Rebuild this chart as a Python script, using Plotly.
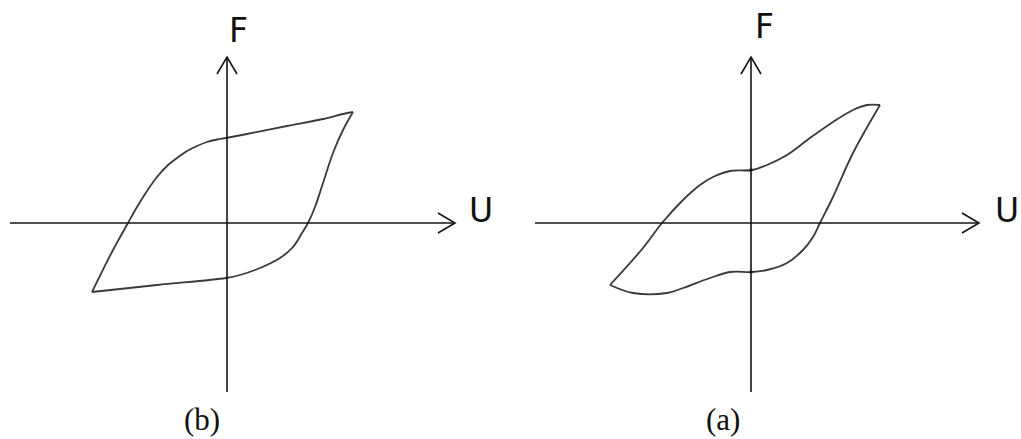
import plotly.graph_objects as go

# Hysteresis loop (b): force F versus displacement U
b_upper_u = [126, 116, 96, 60, 20, -1, -10, -20, -30, -40, -50, -60, -70, -80, -90, -99, -114, -135]
b_upper_f = [111, 109, 104, 97, 89, 85, 83.5, 81, 77, 72, 65, 57, 46, 32, 16, 0, -27, -69]
b_lower_u = [-135, -70, -1, 13, 33, 53, 66, 75, 81, 88, 96, 106, 116, 126]
b_lower_f = [-69, -62, -55, -52, -45, -35, -24, -10, 0, 16, 40, 70, 93, 111]

# Pinched hysteresis loop (a)
a_upper_u = [129, 116, 102, 82, 59, 36, 16, 1, -21, -38, -51, -68, -89, -108, -141]
a_upper_f = [118, 118, 113, 101, 85, 68, 58, 53, 52, 46, 38, 23, 0, -25, -62]
a_lower_u = [-141, -118, -84, -68, -41, -21, 1, 16, 36, 52, 62, 69, 82, 102, 129]
a_lower_f = [-62, -70, -70, -65, -55, -49, -49, -47, -40, -27, -14, 0, 26, 70, 118]

# Points where loop (a) meets the force axis
a_axis_u = [0, 0]
a_axis_f = [53, -49]

axis_labels = ["F", "U"]
panel_labels = ["(b)", "(a)"]

W, H = 1021, 439
LOOP_COLOR = "#3a3a3a"
AXIS_COLOR = "#141414"

fig = go.Figure()


def add_loop(u_up, f_up, u_lo, f_lo, xa, ya):
    for u, f in ((u_up, f_up), (u_lo, f_lo)):
        fig.add_trace(go.Scatter(
            x=u, y=f, mode="lines", xaxis=xa, yaxis=ya,
            line=dict(color=LOOP_COLOR, width=1.8, shape="spline", smoothing=1.0),
            hoverinfo="skip", showlegend=False,
        ))


add_loop(b_upper_u, b_upper_f, b_lower_u, b_lower_f, "x", "y")
add_loop(a_upper_u, a_upper_f, a_lower_u, a_lower_f, "x2", "y2")
fig.add_trace(go.Scatter(
    x=a_axis_u, y=a_axis_f, mode="markers", xaxis="x2", yaxis="y2",
    marker=dict(color=AXIS_COLOR, size=3.5), hoverinfo="skip", showlegend=False,
))

# Coordinate axes with open arrowheads
AX_RIGHT = 228
AX_BOTTOM, AX_TOP = -169, 166
HEAD_LEN, HEAD_HALF = 17, 10

shapes = []
annotations = []
for xr, yr, left in (("x", "y", -217), ("x2", "y2", -216)):
    line = dict(color=AXIS_COLOR, width=1.6)
    shapes.append(dict(type="line", xref=xr, yref=yr, x0=left, y0=0, x1=AX_RIGHT, y1=0, line=line))
    shapes.append(dict(type="line", xref=xr, yref=yr, x0=0, y0=AX_BOTTOM, x1=0, y1=AX_TOP, line=line))
    shapes.append(dict(
        type="path", xref=xr, yref=yr, line=line,
        path=f"M {AX_RIGHT - HEAD_LEN},{HEAD_HALF} L {AX_RIGHT},0 L {AX_RIGHT - HEAD_LEN},{-HEAD_HALF}",
    ))
    shapes.append(dict(
        type="path", xref=xr, yref=yr, line=line,
        path=f"M {-HEAD_HALF},{AX_TOP - HEAD_LEN} L 0,{AX_TOP} L {HEAD_HALF},{AX_TOP - HEAD_LEN}",
    ))

sans = dict(family="DejaVu Sans", size=33, color="#111111")
serif = dict(family="Liberation Serif", size=31, color="#111111")

# Panel (b) labels
annotations += [
    dict(text=axis_labels[0], xref="x", yref="y", x=11, y=193, showarrow=False, font=sans),
    dict(text=axis_labels[1], xref="x", yref="y", x=254, y=13, showarrow=False, font=sans),
    dict(text=panel_labels[0], xref="x", yref="y", x=-25, y=-216, yanchor="bottom",
         showarrow=False, font=serif),
]
# Panel (a) labels
annotations += [
    dict(text=axis_labels[0], xref="x2", yref="y2", x=13, y=197, showarrow=False, font=sans),
    dict(text=axis_labels[1], xref="x2", yref="y2", x=270, y=13, xanchor="right",
         showarrow=False, font=sans),
    dict(text=panel_labels[1], xref="x2", yref="y2", x=-28, y=-216, yanchor="bottom",
         showarrow=False, font=serif),
]

hidden = dict(visible=False, showgrid=False, zeroline=False, fixedrange=True)
fig.update_layout(
    width=W, height=H,
    margin=dict(l=0, r=0, t=0, b=0),
    paper_bgcolor="white", plot_bgcolor="white",
    xaxis=dict(domain=[0, 0.5], range=[-227, 283.5], **hidden),
    yaxis=dict(domain=[0, 1], range=[-216, 223], anchor="x", **hidden),
    xaxis2=dict(domain=[0.5, 1], range=[-240.5, 270], anchor="y2", **hidden),
    yaxis2=dict(domain=[0, 1], range=[-216, 223], anchor="x2", **hidden),
    shapes=shapes,
    annotations=annotations,
    showlegend=False,
)

fig.write_html("out.html", config={"displayModeBar": False})
